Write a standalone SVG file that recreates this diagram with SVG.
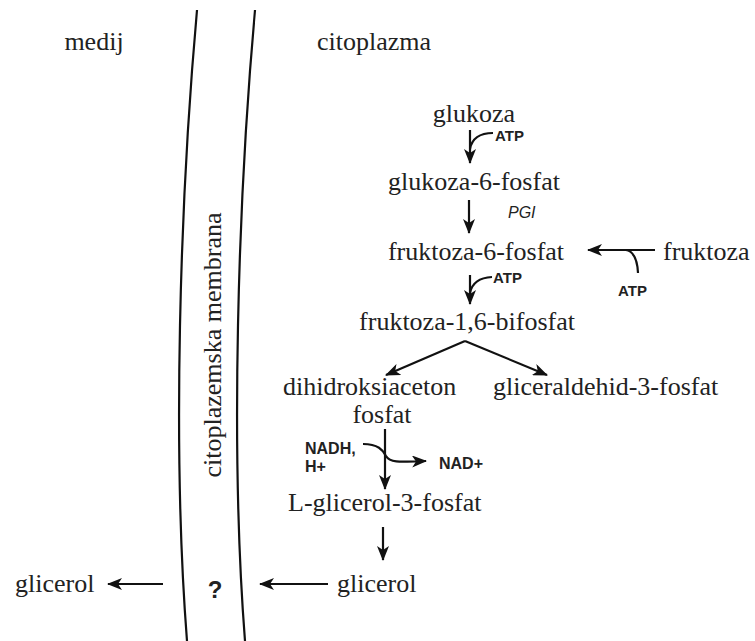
<svg xmlns="http://www.w3.org/2000/svg" width="755" height="641" viewBox="0 0 755 641">
<defs>
<marker id="ah" markerUnits="userSpaceOnUse" markerWidth="15" markerHeight="12" refX="14" refY="6" orient="auto">
<path d="M0,0 L15,6 L0,12 L4,6 z" fill="#111"/>
</marker>
<style>
.s{font-family:"Liberation Serif","Times New Roman",serif;font-size:26px;fill:#222}
.a{font-family:"Liberation Sans",Arial,sans-serif;font-size:15px;font-weight:bold;fill:#222}
.n{font-family:"Liberation Sans",Arial,sans-serif;font-size:16px;font-weight:bold;fill:#222}
.ln{fill:none;stroke:#111;stroke-width:2.2}
.ar{fill:none;stroke:#111;stroke-width:2.2;marker-end:url(#ah)}
</style>
</defs>
<rect width="755" height="641" fill="#fff"/>
<g id="membrane">
<path class="ln" d="M197,10 C180,200 172,450 187,641"/>
<path class="ln" d="M255,10 C238,200 230,450 245,641"/>
<text class="s" transform="translate(221,345) rotate(-90)" text-anchor="middle">citoplazemska membrana</text>
<text x="215" y="598" font-family="Liberation Sans,Arial,sans-serif" font-size="24" font-weight="bold" fill="#222" text-anchor="middle">?</text>
</g>
<g id="medij"><text class="s" x="94" y="50" text-anchor="middle">medij</text></g>
<g id="citoplazma"><text class="s" x="317" y="50">citoplazma</text></g>
<g id="glukoza"><text class="s" x="474" y="122" text-anchor="middle">glukoza</text></g>
<g id="g6p"><text class="s" x="474" y="190" text-anchor="middle">glukoza-6-fosfat</text></g>
<g id="f6p"><text class="s" x="476" y="260" text-anchor="middle">fruktoza-6-fosfat</text></g>
<g id="fruktoza"><text class="s" x="663" y="260">fruktoza</text></g>
<g id="f16bp"><text class="s" x="467" y="330" text-anchor="middle">fruktoza-1,6-bifosfat</text></g>
<g id="dhap"><text class="s" x="283" y="395">dihidroksiaceton</text><text class="s" x="382" y="423" text-anchor="middle">fosfat</text></g>
<g id="gap"><text class="s" x="493" y="395">gliceraldehid-3-fosfat</text></g>
<g id="g3p"><text class="s" x="288" y="511">L-glicerol-3-fosfat</text></g>
<g id="glicerol-in"><text class="s" x="337" y="592">glicerol</text></g>
<g id="glicerol-out"><text class="s" x="15" y="592">glicerol</text></g>
<g id="labels">
<text class="a" x="495" y="141">ATP</text>
<text class="a" x="493" y="283">ATP</text>
<text class="a" x="618" y="296">ATP</text>
<text x="508" y="218" font-family="Liberation Sans,Arial,sans-serif" font-size="16" font-style="italic" fill="#222">PGI</text>
<text class="n" x="305" y="454">NADH,</text>
<text class="n" x="305" y="472">H+</text>
<text class="n" x="439" y="469">NAD+</text>
</g>
<g id="connectors">
<path class="ar" d="M470,130 L470,163"/>
<path class="ln" d="M493,133 Q473,133 470,149"/>
<path class="ar" d="M469,200 L469,233"/>
<path class="ar" d="M470,275 L470,304"/>
<path class="ln" d="M492,277 Q473,278 470,293"/>
<path class="ar" d="M655,250 L588,250"/>
<path class="ln" d="M638,273 Q637,252 626,250"/>
<path class="ar" d="M465,341 L386,375"/>
<path class="ar" d="M465,341 L547,375"/>
<path class="ar" d="M385,429 L385,489"/>
<path class="ar" d="M363,444 C378,444 383,450 386,456 C390,463 400,462 426,461"/>
<path class="ar" d="M383,527 L383,560"/>
<path class="ar" d="M328,584 L260,584"/>
<path class="ar" d="M163,584 L108,584"/>
</g>
</svg>
